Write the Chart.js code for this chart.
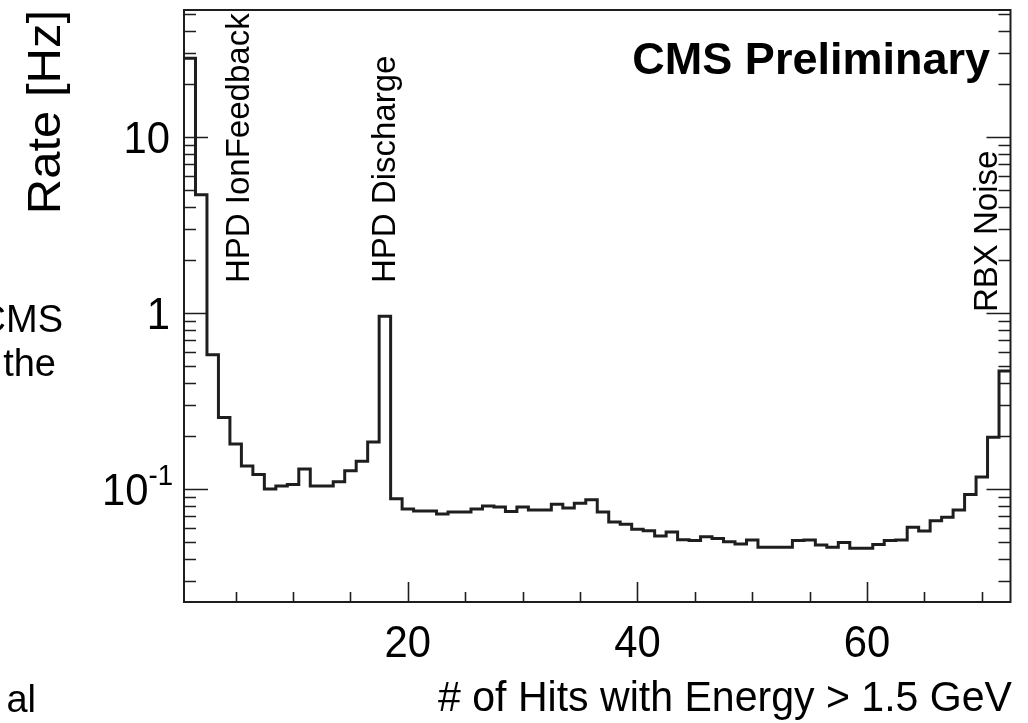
<!DOCTYPE html>
<html>
<head>
<meta charset="utf-8">
<title>HCAL noise rate vs number of hits</title>
<script src="https://cdn.jsdelivr.net/npm/chart.js@4.4.1/dist/chart.umd.min.js"></script>
<style>
  html, body { margin: 0; padding: 0; background: #fff; }
  #wrap { position: relative; width: 1028px; height: 723px; overflow: hidden; }
</style>
</head>
<body>
<div id="wrap"><canvas id="rateChart" width="1028" height="723"></canvas></div>
<script>
// --- DATA ---
// bin centres: number of hits with E > 1.5 GeV
const hits = [
   1,  2,  3,  4,  5,  6,  7,  8,  9, 10, 11, 12,
  13, 14, 15, 16, 17, 18, 19, 20, 21, 22, 23, 24,
  25, 26, 27, 28, 29, 30, 31, 32, 33, 34, 35, 36,
  37, 38, 39, 40, 41, 42, 43, 44, 45, 46, 47, 48,
  49, 50, 51, 52, 53, 54, 55, 56, 57, 58, 59, 60,
  61, 62, 63, 64, 65, 66, 67, 68, 69, 70, 71, 72
];

// rate per bin [Hz]
const rate = [
  28.0, 4.7, 0.58, 0.255, 0.180, 0.135, 0.121, 0.100, 0.104, 0.106, 0.130, 0.104,
  0.104, 0.110, 0.127, 0.144, 0.185, 0.96, 0.088, 0.077, 0.075, 0.075, 0.072, 0.074,
  0.074, 0.077, 0.080, 0.079, 0.0745, 0.079, 0.076, 0.076, 0.082, 0.078, 0.083, 0.087,
  0.074, 0.065, 0.063, 0.059, 0.058, 0.054, 0.057, 0.0515, 0.051, 0.0536, 0.0524, 0.0502,
  0.0487, 0.0513, 0.0466, 0.0466, 0.0466, 0.0509, 0.0513, 0.048, 0.0466, 0.0497, 0.046, 0.046,
  0.0484, 0.0509, 0.0513, 0.0606, 0.0578, 0.066, 0.069, 0.076, 0.093, 0.117, 0.197, 0.468
];

const xTickValues = [20, 40, 60];
const xTickLabels = ['20', '40', '60'];
const yTickValues = [10, 1, 0.1];
const yTickBase = ['10', '1', '10'];
const yTickExp = ['', '', '-1'];

const peakLabels = ['HPD IonFeedback', 'HPD Discharge', 'RBX Noise'];

const xTitle = '# of Hits with Energy > 1.5 GeV';
const yTitle = 'Rate [Hz]';
const banner = 'CMS Preliminary';

// --- HISTOGRAM OUTLINE: one point at each lower bin edge, plus the last upper edge ---
const BIN_W = 1;
const steps = hits.map((h, i) => ({ x: h - BIN_W / 2, y: rate[i] }));
steps.push({ x: hits[hits.length - 1] + BIN_W / 2, y: rate[rate.length - 1] });

const FONT = '"Liberation Sans", Arial, Helvetica, sans-serif';
const INK = '#1e1e1e';

// text helper: allows a small horizontal squeeze (sx) or a target advance width
function putText(ctx, str, o) {
  ctx.save();
  ctx.font = (o.bold ? 'bold ' : '') + o.size + 'px ' + FONT;
  let sx = o.sx || 1;
  if (o.width) sx = o.width / ctx.measureText(str).width;
  ctx.translate(o.x, o.y);
  ctx.scale(sx, 1);
  if (o.rot) ctx.rotate(o.rot);
  ctx.textAlign = o.align || 'left';
  ctx.textBaseline = 'alphabetic';
  ctx.fillStyle = '#000';
  ctx.fillText(str, 0, 0);
  ctx.restore();
}

// ROOT-like frame, inward ticks, labels and titles
const rootFrame = {
  id: 'rootFrame',
  afterDatasetsDraw(chart) {
    const { ctx, chartArea: a, scales: { x, y } } = chart;
    ctx.save();
    ctx.strokeStyle = INK;
    ctx.lineWidth = 2;
    ctx.strokeRect(a.left, a.top, a.right - a.left, a.bottom - a.top);

    // log ticks on left and right edges
    ctx.lineWidth = 1.6;
    ctx.beginPath();
    for (let d = -2; d <= 1; d++) {
      for (let m = 1; m <= 9; m++) {
        const v = m * Math.pow(10, d);
        if (v < y.min || v > y.max) continue;
        const py = Math.round(y.getPixelForValue(v)) + 0.5;
        const len = m === 1 ? 24 : 12;
        ctx.moveTo(a.left, py); ctx.lineTo(a.left + len, py);
        ctx.moveTo(a.right, py); ctx.lineTo(a.right - len, py);
      }
    }
    // linear ticks on the bottom edge
    for (let v = 5; v <= x.max; v += 5) {
      const px = Math.round(x.getPixelForValue(v)) + 0.5;
      const len = v % 20 === 0 ? 20 : 10;
      ctx.moveTo(px, a.bottom); ctx.lineTo(px, a.bottom - len);
    }
    ctx.stroke();

    // y tick labels
    const TS = 44, TSX = 0.95;
    yTickValues.forEach((v, i) => {
      const py = y.getPixelForValue(v);
      if (yTickExp[i]) {
        putText(ctx, yTickExp[i], { x: 173, y: py - 4, size: 29, sx: TSX, align: 'right' });
        ctx.font = '29px ' + FONT;
        const w = ctx.measureText(yTickExp[i]).width * TSX;
        putText(ctx, yTickBase[i], { x: 173 - w, y: py + 16, size: TS, sx: TSX, align: 'right' });
      } else {
        putText(ctx, yTickBase[i], { x: 170, y: py + 16, size: TS, sx: TSX, align: 'right' });
      }
    });

    // x tick labels
    xTickValues.forEach((v, i) => {
      putText(ctx, xTickLabels[i], { x: x.getPixelForValue(v), y: 657, size: TS, sx: TSX, align: 'center' });
    });

    // axis titles
    putText(ctx, xTitle, { x: 1012, y: 711, size: 42, width: 574, align: 'right' });
    putText(ctx, yTitle, { x: 60, y: 10, size: 49, sx: 0.93, align: 'right', rot: -Math.PI / 2 });

    // peak annotations, vertical
    const ann = { size: 33, align: 'left', rot: -Math.PI / 2 };
    putText(ctx, peakLabels[0], Object.assign({ x: x.getPixelForValue(5.1) + 12, y: 283 }, ann));
    putText(ctx, peakLabels[1], Object.assign({ x: x.getPixelForValue(17.8) + 12, y: 283 }, ann));
    putText(ctx, peakLabels[2], Object.assign({ x: x.getPixelForValue(70.3) + 12, y: 312 }, ann));

    putText(ctx, banner, { x: 990, y: 74, size: 45, bold: true, align: 'right' });

    // remnants of the slide text cut off at the left edge
    putText(ctx, 'CMS', { x: 63, y: 332, size: 38, align: 'right' });
    putText(ctx, 'the', { x: 56, y: 376, size: 38, align: 'right' });
    putText(ctx, 'al', { x: 36, y: 712, size: 38, align: 'right' });
    ctx.restore();
  }
};

new Chart(document.getElementById('rateChart'), {
  type: 'line',
  data: {
    datasets: [{
      label: 'Rate',
      data: steps,
      stepped: 'before',
      borderColor: INK,
      borderWidth: 3,
      borderJoinStyle: 'miter',
      pointRadius: 0,
      fill: false
    }]
  },
  options: {
    responsive: false,
    animation: false,
    devicePixelRatio: 1,
    layout: { padding: { left: 184, right: 17.5, top: 10, bottom: 121 } },
    plugins: { legend: { display: false }, tooltip: { enabled: false } },
    scales: {
      x: { type: 'linear', min: 0.5, max: 72.5, display: false },
      y: { type: 'logarithmic', min: 0.0228, max: 52.7, display: false }
    }
  },
  plugins: [rootFrame]
});
</script>
</body>
</html>
